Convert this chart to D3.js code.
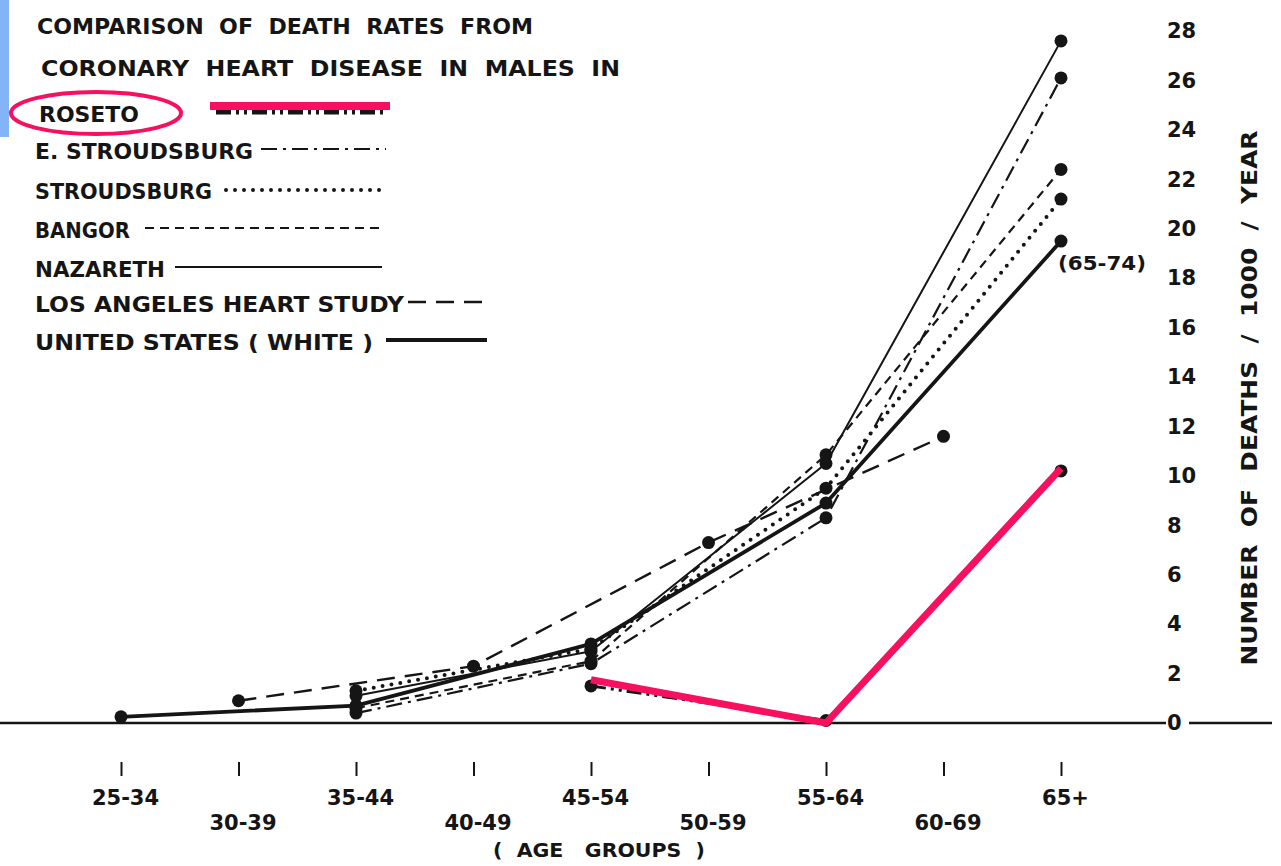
<!DOCTYPE html>
<html>
<head>
<meta charset="utf-8">
<script src="https://cdn.jsdelivr.net/npm/d3@7"></script>
<style>
  body { margin: 0; background: #fff; }
  svg { display: block; }
  text { font-family: "DejaVu Sans", sans-serif; font-weight: bold; fill: #151515; }
</style>
</head>
<body>
<svg id="chart" width="1281" height="866"></svg>
<script>
// Age groups on the horizontal axis (10-year groups interleaved with the
// Los Angeles study's offset groups)
const ageGroups = ["25-34", "30-39", "35-44", "40-49", "45-54", "50-59", "55-64", "60-69", "65+"];
const yTicks = [0, 2, 4, 6, 8, 10, 12, 14, 16, 18, 20, 22, 24, 26, 28];

// Deaths per 1000 per year, aligned with ageGroups (null = no value)
const roseto          = [null, null, null, null, 1.5,  null, 0.1,   null, 10.2];
const eastStroudsburg = [null, null, 0.4,  null, 2.4,  null, 8.3,   null, 26.1];
const stroudsburg     = [null, null, 1.3,  null, 3.0,  null, 9.5,   null, 21.2];
const bangor          = [null, null, 0.6,  null, 2.5,  null, 10.85, null, 22.4];
const nazareth        = [null, null, 1.1,  null, 2.9,  null, 10.5,  null, 27.6];
const losAngeles      = [null, 0.9,  null, 2.3,  null, 7.3,  null,  11.6, null];
const unitedStates    = [0.25, null, 0.7,  null, 3.2,  null, 8.9,   null, 19.5];

// Hand-drawn highlight traced over the Roseto curve
const rosetoHighlight = [null, null, null, null, 1.75, null, 0, null, 10.3];

const seriesNames = ["ROSETO", "E. STROUDSBURG", "STROUDSBURG", "BANGOR", "NAZARETH",
                     "LOS ANGELES HEART STUDY", "UNITED STATES ( WHITE )"];
const seriesValues = [roseto, eastStroudsburg, stroudsburg, bangor, nazareth, losAngeles, unitedStates];

const titleLines = ["COMPARISON  OF  DEATH  RATES  FROM", "CORONARY  HEART  DISEASE  IN  MALES  IN"];
const yTitle = "NUMBER  OF  DEATHS  /  1000  /  YEAR";
const xTitle = "(  AGE   GROUPS  )";
const lastGroupNote = "(65-74)";

// Stroke styles for each series
const styles = {
  "ROSETO":                  { width: 3,   dash: "15 5 3 5 3 5", cap: "butt" },
  "E. STROUDSBURG":          { width: 2.2, dash: "16 6 3 6",     cap: "butt" },
  "STROUDSBURG":             { width: 4,   dash: "0 9",          cap: "round" },
  "BANGOR":                  { width: 2.2, dash: "9 6",          cap: "butt" },
  "NAZARETH":                { width: 2,   dash: null,           cap: "butt" },
  "LOS ANGELES HEART STUDY": { width: 2.4, dash: "18 10",        cap: "butt" },
  "UNITED STATES ( WHITE )": { width: 3.8, dash: null,           cap: "butt" }
};

// Legend layout: text extent and sample-line extent
const legendLayout = [
  { tx: 39, tw: 100, ty: 122, lx1: 216, lx2: 388, ly: 112, sampleWidth: 5 },
  { tx: 35, tw: 218, ty: 159, lx1: 261, lx2: 386, ly: 149 },
  { tx: 35, tw: 177, ty: 199, lx1: 226, lx2: 386, ly: 190 },
  { tx: 35, tw: 95,  ty: 238, lx1: 145, lx2: 382, ly: 228 },
  { tx: 35, tw: 130, ty: 277, lx1: 175, lx2: 382, ly: 267 },
  { tx: 35, tw: 369, ty: 312, lx1: 408, lx2: 486, ly: 302 },
  { tx: 35, tw: 338, ty: 350, lx1: 386, lx2: 487, ly: 340 }
];

const pink = "#f7105f";
const ink = "#151515";

const svg = d3.select("#chart");

const x = d3.scalePoint().domain(ageGroups).range([121, 1061]);
const y = d3.scaleLinear().domain([0, 28]).range([723, 31]);

// Left-edge tab
svg.append("rect").attr("x", 0).attr("y", 0).attr("width", 9).attr("height", 137)
  .attr("fill", "#82b4f7");

// Baseline (zero line), broken around the "0" label
svg.append("line").attr("x1", 0).attr("x2", 1166).attr("y1", y(0)).attr("y2", y(0))
  .attr("stroke", ink).attr("stroke-width", 2.6);
svg.append("line").attr("x1", 1189).attr("x2", 1272).attr("y1", y(0)).attr("y2", y(0))
  .attr("stroke", ink).attr("stroke-width", 2.6);

// Right-hand value axis
const yAxis = svg.append("g").attr("transform", "translate(1167,0)")
  .call(d3.axisRight(y).tickValues(yTicks).tickSize(0).tickPadding(0));
yAxis.select(".domain").remove();
yAxis.selectAll("text").attr("font-size", 21).attr("font-family", "DejaVu Sans")
  .attr("font-weight", "bold").attr("fill", ink);

svg.append("text")
  .attr("transform", "translate(1257,398) rotate(-90)")
  .attr("text-anchor", "middle")
  .attr("font-size", 21)
  .attr("textLength", 535).attr("lengthAdjust", "spacingAndGlyphs")
  .style("white-space", "pre")
  .text(yTitle);

// Age-group axis with alternating label rows
const xAxis = svg.append("g").attr("transform", "translate(0,762)")
  .call(d3.axisBottom(x).tickSize(14).tickPadding(0));
xAxis.select(".domain").remove();
xAxis.selectAll(".tick line").attr("stroke", ink).attr("stroke-width", 2);
xAxis.selectAll(".tick text")
  .attr("y", (d, i) => i % 2 ? 68 : 43)
  .attr("dy", 0)
  .attr("dx", 4)
  .attr("font-size", 21)
  .attr("font-family", "DejaVu Sans")
  .attr("font-weight", "bold")
  .attr("fill", ink);

svg.append("text")
  .attr("x", 599).attr("y", 857)
  .attr("text-anchor", "middle")
  .attr("font-size", 20)
  .attr("textLength", 212).attr("lengthAdjust", "spacingAndGlyphs")
  .style("white-space", "pre")
  .text(xTitle);

// Series lines and markers
const line = d3.line()
  .defined(d => d.v !== null)
  .x(d => x(d.g))
  .y(d => y(d.v));

const plot = svg.append("g");
seriesNames.forEach((name, i) => {
  const pts = ageGroups.map((g, j) => ({ g, v: seriesValues[i][j] }));
  const st = styles[name];
  plot.append("path")
    .datum(pts.filter(p => p.v !== null))
    .attr("d", line)
    .attr("fill", "none")
    .attr("stroke", ink)
    .attr("stroke-width", st.width)
    .attr("stroke-dasharray", st.dash)
    .attr("stroke-linecap", st.cap)
    .attr("stroke-linejoin", "round");
  plot.selectAll(null)
    .data(pts.filter(p => p.v !== null))
    .enter().append("circle")
    .attr("cx", d => x(d.g))
    .attr("cy", d => y(d.v))
    .attr("r", 6.5)
    .attr("fill", ink);
});

svg.append("text")
  .attr("x", 1058).attr("y", 270)
  .attr("font-size", 19)
  .attr("font-weight", "normal")
  .attr("textLength", 88).attr("lengthAdjust", "spacingAndGlyphs")
  .text(lastGroupNote);

// Title and legend
titleLines.forEach((t, i) => {
  svg.append("text")
    .attr("x", i ? 41 : 37).attr("y", i ? 76 : 34)
    .attr("font-size", 22)
    .attr("textLength", i ? 579 : 496).attr("lengthAdjust", "spacingAndGlyphs")
    .style("white-space", "pre")
    .text(t);
});

seriesNames.forEach((name, i) => {
  const L = legendLayout[i];
  const st = styles[name];
  svg.append("text")
    .attr("x", L.tx).attr("y", L.ty)
    .attr("font-size", 22)
    .attr("textLength", L.tw).attr("lengthAdjust", "spacingAndGlyphs")
    .style("white-space", "pre")
    .text(name);
  svg.append("line")
    .attr("x1", L.lx1).attr("x2", L.lx2).attr("y1", L.ly).attr("y2", L.ly)
    .attr("stroke", ink)
    .attr("stroke-width", L.sampleWidth || st.width)
    .attr("stroke-dasharray", st.dash)
    .attr("stroke-linecap", st.cap);
});

// Pink annotations: ring round the Roseto label, bar over its legend sample,
// and the trace over the Roseto curve
svg.append("ellipse")
  .attr("cx", 96).attr("cy", 113).attr("rx", 85).attr("ry", 21)
  .attr("fill", "none").attr("stroke", pink).attr("stroke-width", 4);
svg.append("rect")
  .attr("x", 210).attr("y", 102).attr("width", 180).attr("height", 8)
  .attr("fill", pink);

const highlightPts = ageGroups.map((g, j) => ({ g, v: rosetoHighlight[j] }))
  .filter(p => p.v !== null);
svg.append("path")
  .datum(highlightPts)
  .attr("d", line)
  .attr("fill", "none")
  .attr("stroke", pink)
  .attr("stroke-width", 7)
  .attr("stroke-linejoin", "miter");
</script>
</body>
</html>
